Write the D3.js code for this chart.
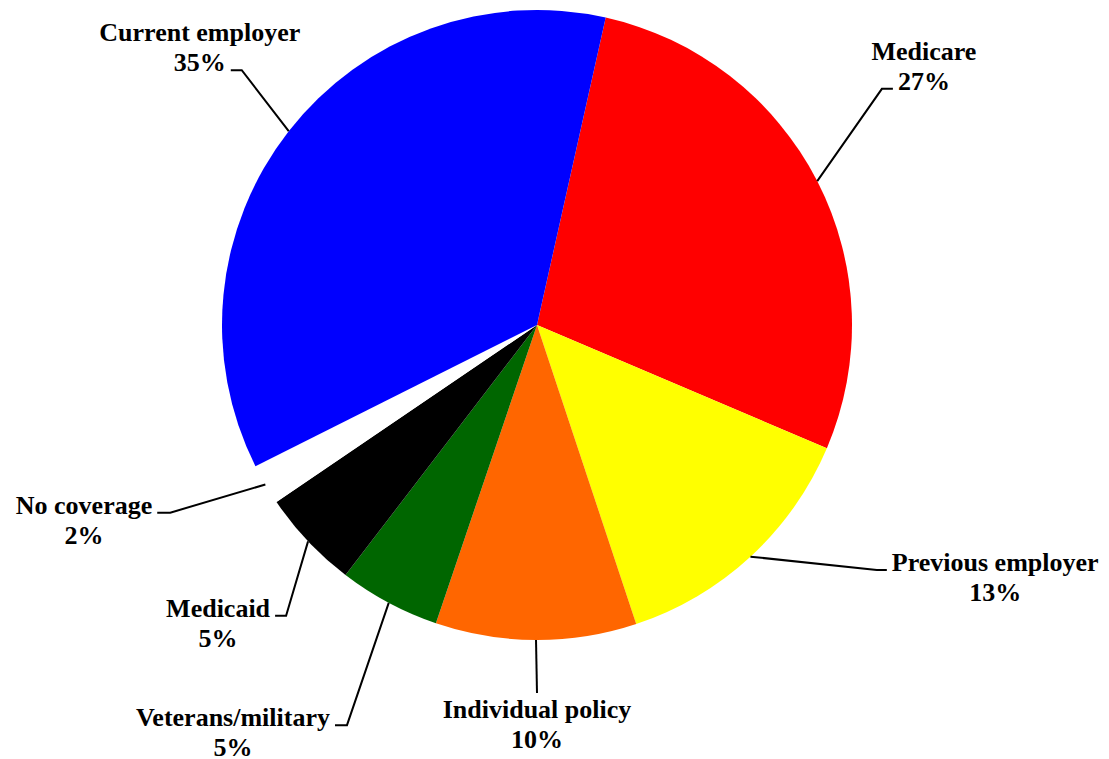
<!DOCTYPE html>
<html>
<head>
<meta charset="utf-8">
<script src="https://cdn.jsdelivr.net/npm/d3@7"></script>
<style>
  html, body { margin: 0; padding: 0; background: #fff; }
  .leader { fill: none; stroke: #000; stroke-width: 2; }
</style>
</head>
<body>
<svg id="chart" width="1109" height="759"></svg>
<script>
// slice order follows the picture, clockwise from Medicare
var categories = ['Medicare', 'Previous employer', 'Individual policy', 'Veterans/military', 'Medicaid', 'No coverage', 'Current employer'];
var shares     = [27.9, 13.5, 10.3, 5.2, 5.1, 2.1, 35.9];
var pctLabels  = ['27%', '13%', '10%', '5%', '5%', '2%', '35%'];
var colors     = ['#ff0000', '#ffff00', '#ff6600', '#006600', '#000000', '#ffffff', '#0000ff'];

// where each callout bends: polar position (deg from 12 o'clock, radius), then a short horizontal tail
var labelLayout = {
  'Medicare':          {ang: 55.6,  r: 418, tail: 11,  line: 1},
  'Previous employer': {ang: 125.8, r: 419, tail: 10,  line: 0},
  'Individual policy': {ang: 180,   r: 368, tail: 0,   line: -1},
  'Veterans/military': {ang: 205.4, r: 443, tail: -12, line: 0},
  'Medicaid':          {ang: 220.8, r: 384, tail: -11, line: 0},
  'No coverage':       {ang: 242.9, r: 412, tail: -13, line: 0},
  'Current employer':  {ang: 310.8, r: 390, tail: -11, line: 1}
};

var
  width = 1109,
  height = 759,
  cx = 537,
  cy = 325,
  radius = 315,
  lineGap = 30,
  fontFamily = "'Liberation Serif', 'Times New Roman', Times, 'DejaVu Serif', serif",
  rad = Math.PI / 180
  ;

var data = categories.map((c, i) => ({name: c, value: shares[i], pct: pctLabels[i], color: colors[i]}));

var
  svg = d3.select('#chart'),
  g = svg.append('g').attr('transform', 'translate(' + cx + ',' + cy + ')'),
  pie = d3.pie().sort(null).value(d => d.value).startAngle(12.6 * rad).endAngle(372.6 * rad),
  arc = d3.arc().innerRadius(0).outerRadius(radius),
  arcs = pie(data)
  ;

function polar(angDeg, r) {
  return [r * Math.sin(angDeg * rad), -r * Math.cos(angDeg * rad)];
}

g.selectAll('path.slice')
  .data(arcs)
  .enter().append('path')
  .attr('class', 'slice')
  .attr('d', arc)
  .style('fill', d => d.data.color)
  .style('stroke', 'none');

var labels = g.selectAll('g.label')
  .data(arcs)
  .enter().append('g')
  .attr('class', 'label');

labels.each(function(d) {
  var
    sel = d3.select(this),
    lay = labelLayout[d.data.name],
    mid = (d.startAngle + d.endAngle) / 2,
    p0 = [radius * Math.sin(mid), -radius * Math.cos(mid)],
    p1 = polar(lay.ang, lay.r),
    p2 = [p1[0] + lay.tail, p1[1]]
    ;

  sel.append('path')
    .attr('class', 'leader')
    .attr('d', d3.line()([p0, p1, p2]));

  var
    lines = [d.data.name, d.data.pct].map(s => sel.append('text')
      .attr('text-anchor', 'middle')
      .style('font-family', fontFamily)
      .style('font-weight', 'bold')
      .style('font-size', '26px')
      .style('fill', '#000')
      .text(s)),
    textX, base0
    ;

  if (lay.line < 0) {
    // straight down: text block below the leader
    textX = p2[0];
    base0 = p2[1] + 25;
  } else {
    var w = lines[lay.line].node().getComputedTextLength();
    textX = lay.tail > 0 ? p2[0] + 5 + w / 2 : p2[0] - 5 - w / 2;
    base0 = p2[1] + 1 - lay.line * lineGap;
  }

  lines[0].attr('x', textX).attr('y', base0);
  lines[1].attr('x', textX).attr('y', base0 + lineGap);
});
</script>
</body>
</html>
